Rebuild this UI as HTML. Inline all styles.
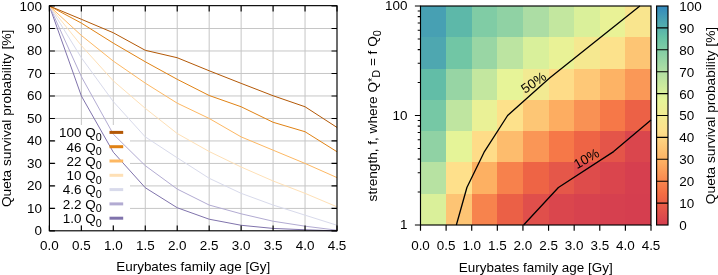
<!DOCTYPE html>
<html><head><meta charset="utf-8"><title>Queta survival probability</title>
<style>html,body{margin:0;padding:0;background:#fff}svg{display:block;will-change:transform}</style>
</head><body>
<svg width="718" height="275" viewBox="0 0 718 275" font-family='"Liberation Sans", Arial, Helvetica, sans-serif' font-size="13.45" fill="#000">
<rect width="718" height="275" fill="#fff"/>
<g id="left">
<path d="M81.36 6.0V230.9M113.31 6.0V230.9M145.27 6.0V230.9M177.22 6.0V230.9M209.18 6.0V230.9M241.13 6.0V230.9M273.09 6.0V230.9M305.04 6.0V230.9M49.4 208.41H337.0M49.4 185.92H337.0M49.4 163.43H337.0M49.4 140.94H337.0M49.4 118.45H337.0M49.4 95.96H337.0M49.4 73.47H337.0M49.4 50.98H337.0M49.4 28.49H337.0" stroke="#c6c6c6" stroke-width="1.0" fill="none"/>
<rect x="55.5" y="125" width="74.5" height="100" fill="#fff"/>
<polyline points="49.40,6.00 81.36,95.96 113.31,152.19 145.27,187.72 177.22,207.74 209.18,219.21 241.13,225.28 273.09,228.43 305.04,229.78 337.00,230.90" fill="none" stroke="#8073AC" stroke-width="1.0" stroke-linejoin="round"/>
<polyline points="49.40,6.00 81.36,76.62 113.31,134.19 145.27,165.68 177.22,189.07 209.18,205.04 241.13,213.81 273.09,221.23 305.04,226.18 337.00,230.23" fill="none" stroke="#B2ABD2" stroke-width="1.0" stroke-linejoin="round"/>
<polyline points="49.40,6.00 81.36,57.73 113.31,101.58 145.27,136.89 177.22,157.81 209.18,178.27 241.13,193.34 273.09,205.04 305.04,215.16 337.00,225.28" fill="none" stroke="#D8DAEB" stroke-width="1.0" stroke-linejoin="round"/>
<polyline points="49.40,6.00 81.36,45.58 113.31,80.89 145.27,108.33 177.22,133.52 209.18,151.51 241.13,167.03 273.09,180.97 305.04,193.34 337.00,206.84" fill="none" stroke="#FEE0B6" stroke-width="1.0" stroke-linejoin="round"/>
<polyline points="49.40,6.00 81.36,35.46 113.31,61.10 145.27,83.14 177.22,103.16 209.18,118.45 241.13,136.89 273.09,150.16 305.04,163.43 337.00,177.60" fill="none" stroke="#FDB863" stroke-width="1.0" stroke-linejoin="round"/>
<polyline points="49.40,6.00 81.36,23.09 113.31,43.11 145.27,61.78 177.22,79.32 209.18,95.51 241.13,106.76 273.09,122.27 305.04,131.72 337.00,151.74" fill="none" stroke="#E08214" stroke-width="1.0" stroke-linejoin="round"/>
<polyline points="49.40,6.00 81.36,19.27 113.31,32.76 145.27,50.31 177.22,57.73 209.18,70.77 241.13,83.37 273.09,95.74 305.04,106.76 337.00,127.45" fill="none" stroke="#B35806" stroke-width="1.0" stroke-linejoin="round"/>
<text x="95.7" y="137.20" text-anchor="end">100 Q</text>
<text x="95.7" y="140.80" font-size="10.76">0</text>
<line x1="109.5" x2="123.2" y1="132.40" y2="132.40" stroke="#B35806" stroke-width="3"/>
<text x="95.7" y="151.50" text-anchor="end">46 Q</text>
<text x="95.7" y="155.10" font-size="10.76">0</text>
<line x1="109.5" x2="123.2" y1="146.70" y2="146.70" stroke="#E08214" stroke-width="3"/>
<text x="95.7" y="165.80" text-anchor="end">22 Q</text>
<text x="95.7" y="169.40" font-size="10.76">0</text>
<line x1="109.5" x2="123.2" y1="161.00" y2="161.00" stroke="#FDB863" stroke-width="3"/>
<text x="95.7" y="180.10" text-anchor="end">10 Q</text>
<text x="95.7" y="183.70" font-size="10.76">0</text>
<line x1="109.5" x2="123.2" y1="175.30" y2="175.30" stroke="#FEE0B6" stroke-width="3"/>
<text x="95.7" y="194.40" text-anchor="end">4.6 Q</text>
<text x="95.7" y="198.00" font-size="10.76">0</text>
<line x1="109.5" x2="123.2" y1="189.60" y2="189.60" stroke="#D8DAEB" stroke-width="3"/>
<text x="95.7" y="208.70" text-anchor="end">2.2 Q</text>
<text x="95.7" y="212.30" font-size="10.76">0</text>
<line x1="109.5" x2="123.2" y1="203.90" y2="203.90" stroke="#B2ABD2" stroke-width="3"/>
<text x="95.7" y="223.00" text-anchor="end">1.0 Q</text>
<text x="95.7" y="226.60" font-size="10.76">0</text>
<line x1="109.5" x2="123.2" y1="218.20" y2="218.20" stroke="#8073AC" stroke-width="3"/>
<rect x="49.4" y="5.65" width="287.6" height="225.15" fill="none" stroke="#000" stroke-width="1.15"/>
<path d="M49.40 230.9v-5.5M49.40 6.0v5.5M81.36 230.9v-5.5M81.36 6.0v5.5M113.31 230.9v-5.5M113.31 6.0v5.5M145.27 230.9v-5.5M145.27 6.0v5.5M177.22 230.9v-5.5M177.22 6.0v5.5M209.18 230.9v-5.5M209.18 6.0v5.5M241.13 230.9v-5.5M241.13 6.0v5.5M273.09 230.9v-5.5M273.09 6.0v5.5M305.04 230.9v-5.5M305.04 6.0v5.5M337.00 230.9v-5.5M337.00 6.0v5.5M49.4 230.90h5.5M337.0 230.90h-5.5M49.4 208.41h5.5M337.0 208.41h-5.5M49.4 185.92h5.5M337.0 185.92h-5.5M49.4 163.43h5.5M337.0 163.43h-5.5M49.4 140.94h5.5M337.0 140.94h-5.5M49.4 118.45h5.5M337.0 118.45h-5.5M49.4 95.96h5.5M337.0 95.96h-5.5M49.4 73.47h5.5M337.0 73.47h-5.5M49.4 50.98h5.5M337.0 50.98h-5.5M49.4 28.49h5.5M337.0 28.49h-5.5M49.4 6.00h5.5M337.0 6.00h-5.5" stroke="#000" stroke-width="1.15" fill="none"/>
<text x="49.40" y="250.0" text-anchor="middle">0.0</text>
<text x="81.36" y="250.0" text-anchor="middle">0.5</text>
<text x="113.31" y="250.0" text-anchor="middle">1.0</text>
<text x="145.27" y="250.0" text-anchor="middle">1.5</text>
<text x="177.22" y="250.0" text-anchor="middle">2.0</text>
<text x="209.18" y="250.0" text-anchor="middle">2.5</text>
<text x="241.13" y="250.0" text-anchor="middle">3.0</text>
<text x="273.09" y="250.0" text-anchor="middle">3.5</text>
<text x="305.04" y="250.0" text-anchor="middle">4.0</text>
<text x="337.00" y="250.0" text-anchor="middle">4.5</text>
<text x="41.9" y="235.40" text-anchor="end">0</text>
<text x="41.9" y="212.91" text-anchor="end">10</text>
<text x="41.9" y="190.42" text-anchor="end">20</text>
<text x="41.9" y="167.93" text-anchor="end">30</text>
<text x="41.9" y="145.44" text-anchor="end">40</text>
<text x="41.9" y="122.95" text-anchor="end">50</text>
<text x="41.9" y="100.46" text-anchor="end">60</text>
<text x="41.9" y="77.97" text-anchor="end">70</text>
<text x="41.9" y="55.48" text-anchor="end">80</text>
<text x="41.9" y="32.99" text-anchor="end">90</text>
<text x="41.9" y="10.50" text-anchor="end">100</text>
<text x="193.20" y="271" text-anchor="middle">Eurybates family age [Gy]</text>
<text transform="translate(11.2 118.45) rotate(-90)" text-anchor="middle" font-size="13.7">Queta survival probability [%]</text>
</g>
<g id="right">
<g shape-rendering="crispEdges">
<rect x="420.50" y="6.00" width="26.11" height="31.79" fill="#47a0b3"/>
<rect x="446.11" y="6.00" width="26.11" height="31.79" fill="#5db8a9"/>
<rect x="471.72" y="6.00" width="26.11" height="31.79" fill="#80cca5"/>
<rect x="497.33" y="6.00" width="26.11" height="31.79" fill="#90d2a4"/>
<rect x="522.94" y="6.00" width="26.11" height="31.79" fill="#acdda4"/>
<rect x="548.56" y="6.00" width="26.11" height="31.79" fill="#c3e79f"/>
<rect x="574.17" y="6.00" width="26.11" height="31.79" fill="#daf09a"/>
<rect x="599.78" y="6.00" width="26.11" height="31.79" fill="#e9f296"/>
<rect x="625.39" y="6.00" width="25.61" height="31.79" fill="#f9e58e"/>
<rect x="420.50" y="37.29" width="26.11" height="31.79" fill="#4ea7b0"/>
<rect x="446.11" y="37.29" width="26.11" height="31.79" fill="#71c6a5"/>
<rect x="471.72" y="37.29" width="26.11" height="31.79" fill="#99d6a4"/>
<rect x="497.33" y="37.29" width="26.11" height="31.79" fill="#bce4a1"/>
<rect x="522.94" y="37.29" width="26.11" height="31.79" fill="#d9f09b"/>
<rect x="548.56" y="37.29" width="26.11" height="31.79" fill="#e9f296"/>
<rect x="574.17" y="37.29" width="26.11" height="31.79" fill="#f5e890"/>
<rect x="599.78" y="37.29" width="26.11" height="31.79" fill="#fce28c"/>
<rect x="625.39" y="37.29" width="25.61" height="31.79" fill="#fdc574"/>
<rect x="420.50" y="68.57" width="26.11" height="31.79" fill="#62bda7"/>
<rect x="446.11" y="68.57" width="26.11" height="31.79" fill="#97d5a4"/>
<rect x="471.72" y="68.57" width="26.11" height="31.79" fill="#c3e79f"/>
<rect x="497.33" y="68.57" width="26.11" height="31.79" fill="#e7f498"/>
<rect x="522.94" y="68.57" width="26.11" height="31.79" fill="#f2ea92"/>
<rect x="548.56" y="68.57" width="26.11" height="31.79" fill="#fedc88"/>
<rect x="574.17" y="68.57" width="26.11" height="31.79" fill="#fec877"/>
<rect x="599.78" y="68.57" width="26.11" height="31.79" fill="#fdb365"/>
<rect x="625.39" y="68.57" width="25.61" height="31.79" fill="#fa9857"/>
<rect x="420.50" y="99.86" width="26.11" height="31.79" fill="#76c8a5"/>
<rect x="446.11" y="99.86" width="26.11" height="31.79" fill="#bfe5a0"/>
<rect x="471.72" y="99.86" width="26.11" height="31.79" fill="#eaf196"/>
<rect x="497.33" y="99.86" width="26.11" height="31.79" fill="#fde18b"/>
<rect x="522.94" y="99.86" width="26.11" height="31.79" fill="#fdc675"/>
<rect x="548.56" y="99.86" width="26.11" height="31.79" fill="#fdad61"/>
<rect x="574.17" y="99.86" width="26.11" height="31.79" fill="#f99154"/>
<rect x="599.78" y="99.86" width="26.11" height="31.79" fill="#f67848"/>
<rect x="625.39" y="99.86" width="25.61" height="31.79" fill="#ec6146"/>
<rect x="420.50" y="131.14" width="26.11" height="31.79" fill="#90d2a4"/>
<rect x="446.11" y="131.14" width="26.11" height="31.79" fill="#e5f498"/>
<rect x="471.72" y="131.14" width="26.11" height="31.79" fill="#fedc88"/>
<rect x="497.33" y="131.14" width="26.11" height="31.79" fill="#fdbc6d"/>
<rect x="522.94" y="131.14" width="26.11" height="31.79" fill="#fa9656"/>
<rect x="548.56" y="131.14" width="26.11" height="31.79" fill="#f67848"/>
<rect x="574.17" y="131.14" width="26.11" height="31.79" fill="#ee6445"/>
<rect x="599.78" y="131.14" width="26.11" height="31.79" fill="#e45549"/>
<rect x="625.39" y="131.14" width="25.61" height="31.79" fill="#da464d"/>
<rect x="420.50" y="162.43" width="26.11" height="31.79" fill="#b7e2a2"/>
<rect x="446.11" y="162.43" width="26.11" height="31.79" fill="#fee08b"/>
<rect x="471.72" y="162.43" width="26.11" height="31.79" fill="#fdb062"/>
<rect x="497.33" y="162.43" width="26.11" height="31.79" fill="#f7814c"/>
<rect x="522.94" y="162.43" width="26.11" height="31.79" fill="#ee6445"/>
<rect x="548.56" y="162.43" width="26.11" height="31.79" fill="#e55749"/>
<rect x="574.17" y="162.43" width="26.11" height="31.79" fill="#de4c4b"/>
<rect x="599.78" y="162.43" width="26.11" height="31.79" fill="#da454d"/>
<rect x="625.39" y="162.43" width="25.61" height="31.79" fill="#d63f4f"/>
<rect x="420.50" y="193.71" width="26.11" height="31.29" fill="#daf09a"/>
<rect x="446.11" y="193.71" width="26.11" height="31.29" fill="#fdc474"/>
<rect x="471.72" y="193.71" width="26.11" height="31.29" fill="#f7834d"/>
<rect x="497.33" y="193.71" width="26.11" height="31.29" fill="#eb6046"/>
<rect x="522.94" y="193.71" width="26.11" height="31.29" fill="#e04f4b"/>
<rect x="548.56" y="193.71" width="26.11" height="31.29" fill="#da464d"/>
<rect x="574.17" y="193.71" width="26.11" height="31.29" fill="#d7424e"/>
<rect x="599.78" y="193.71" width="26.11" height="31.29" fill="#d6404f"/>
<rect x="625.39" y="193.71" width="25.61" height="31.29" fill="#d53e4f"/>
</g>
<polyline points="456.36,225.00 466.90,187.50 483.96,152.43 507.62,115.50 549.60,78.00 593.47,42.93 639.86,6.00" fill="none" stroke="#000" stroke-width="1.3" stroke-linejoin="round"/>
<polyline points="523.60,225.00 558.41,187.50 613.60,151.60 651.00,120.00" fill="none" stroke="#000" stroke-width="1.3" stroke-linejoin="round"/>
<text transform="translate(533.6 82.6) rotate(-34.5)" text-anchor="middle" y="4.5">50%</text>
<text transform="translate(586.6 158.6) rotate(-29.5)" text-anchor="middle" y="4.5">10%</text>
<rect x="420.5" y="6.0" width="230.5" height="219.0" fill="none" stroke="#000" stroke-width="1.15"/>
<path d="M420.50 225.0v5.8M446.11 225.0v5.8M471.72 225.0v5.8M497.33 225.0v5.8M522.94 225.0v5.8M548.56 225.0v5.8M574.17 225.0v5.8M599.78 225.0v5.8M625.39 225.0v5.8M651.00 225.0v5.8M420.5 225.00h-5.6M420.5 115.50h-5.6M420.5 6.00h-5.6M420.5 192.04h-2.8M420.5 172.76h-2.8M420.5 159.07h-2.8M420.5 148.46h-2.8M420.5 139.79h-2.8M420.5 132.46h-2.8M420.5 126.11h-2.8M420.5 120.51h-2.8M420.5 82.54h-2.8M420.5 63.26h-2.8M420.5 49.57h-2.8M420.5 38.96h-2.8M420.5 30.29h-2.8M420.5 22.96h-2.8M420.5 16.61h-2.8M420.5 11.01h-2.8" stroke="#000" stroke-width="1.15" fill="none"/>
<text x="420.50" y="250.2" text-anchor="middle">0.0</text>
<text x="446.11" y="250.2" text-anchor="middle">0.5</text>
<text x="471.72" y="250.2" text-anchor="middle">1.0</text>
<text x="497.33" y="250.2" text-anchor="middle">1.5</text>
<text x="522.94" y="250.2" text-anchor="middle">2.0</text>
<text x="548.56" y="250.2" text-anchor="middle">2.5</text>
<text x="574.17" y="250.2" text-anchor="middle">3.0</text>
<text x="599.78" y="250.2" text-anchor="middle">3.5</text>
<text x="625.39" y="250.2" text-anchor="middle">4.0</text>
<text x="651.00" y="250.2" text-anchor="middle">4.5</text>
<text x="407.4" y="229.30" text-anchor="end">1</text>
<text x="407.4" y="119.80" text-anchor="end">10</text>
<text x="407.4" y="10.30" text-anchor="end">100</text>
<text x="535.75" y="271.6" text-anchor="middle">Eurybates family age [Gy]</text>
<text transform="translate(377.3 115.80) rotate(-90)" text-anchor="middle" font-size="13.6">strength, f, where Q<tspan font-size="10.9" dy="-1.4">*</tspan><tspan font-size="10.9" dy="4.0">D</tspan><tspan dy="-2.6"> = f Q</tspan><tspan font-size="10.9" dy="3.2">0</tspan></text>
<defs><linearGradient id="cb" x1="0" y1="1" x2="0" y2="0">
<stop offset="0.0000" stop-color="#D53E4F"/>
<stop offset="0.1429" stop-color="#F46D43"/>
<stop offset="0.2857" stop-color="#FDAE61"/>
<stop offset="0.4286" stop-color="#FEE08B"/>
<stop offset="0.5714" stop-color="#E6F598"/>
<stop offset="0.7143" stop-color="#ABDDA4"/>
<stop offset="0.8571" stop-color="#66C2A5"/>
<stop offset="1.0000" stop-color="#3288BD"/>
</linearGradient></defs>
<rect x="656.6" y="6.0" width="11.399999999999977" height="219.0" fill="url(#cb)" stroke="#000" stroke-width="1.15"/>
<path d="M656.6 203.10H668.0M656.6 181.20H668.0M656.6 159.30H668.0M656.6 137.40H668.0M656.6 115.50H668.0M656.6 93.60H668.0M656.6 71.70H668.0M656.6 49.80H668.0M656.6 27.90H668.0" stroke="#000" stroke-width="1.1" fill="none"/>
<text x="679.3" y="229.90">0</text>
<text x="679.3" y="208.00">10</text>
<text x="679.3" y="186.10">20</text>
<text x="679.3" y="164.20">30</text>
<text x="679.3" y="142.30">40</text>
<text x="679.3" y="120.40">50</text>
<text x="679.3" y="98.50">60</text>
<text x="679.3" y="76.60">70</text>
<text x="679.3" y="54.70">80</text>
<text x="679.3" y="32.80">90</text>
<text x="679.3" y="10.90">100</text>
<text transform="translate(715.2 115.50) rotate(-90)" text-anchor="middle" font-size="13.7">Queta survival probability [%]</text>
</g>
</svg>
</body></html>
